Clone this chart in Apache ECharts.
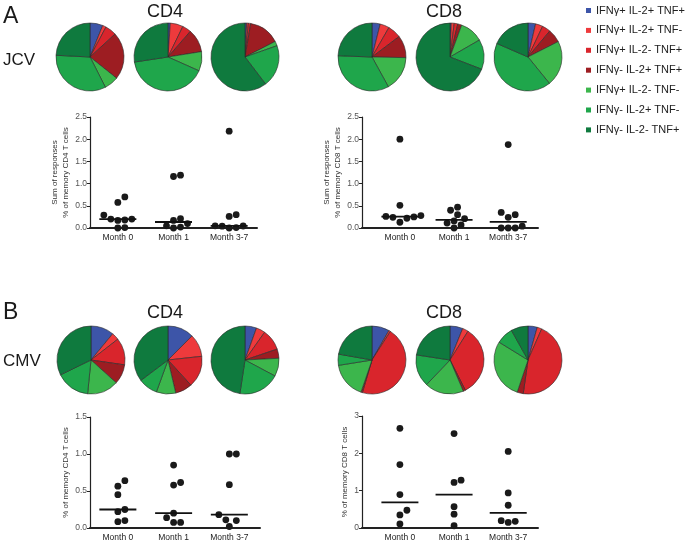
<!DOCTYPE html>
<html><head><meta charset="utf-8">
<script src="https://cdn.jsdelivr.net/npm/echarts@6/dist/echarts.min.js"></script>
<style>html,body{margin:0;padding:0;background:#fff}#c{width:688px;height:543px}</style>
</head><body><div id="c"></div>
<script>
// ---- categories ----
const subsets = ['IFNγ+ IL-2+ TNF+','IFNγ+ IL-2+ TNF-','IFNγ+ IL-2- TNF+','IFNγ- IL-2+ TNF+','IFNγ+ IL-2- TNF-','IFNγ- IL-2+ TNF-','IFNγ- IL-2- TNF+'];
const subsetColors = ['#3d55a8','#ee3a3c','#d9252c','#9d1d22','#3cb64c','#1fa64b','#0f7a3e'];
const months = ['Month 0','Month 1','Month 3-7'];

// ---- pie compositions (% of response), one row per time point ----
const jcvCD4Pies = [[6.1,1.7,5.4,22.5,6.8,33.3,24.2],[1.1,6.1,4.2,11.1,9.2,41.0,27.4],[0.8,0.8,1.1,14.7,2.2,20.0,60.3]];
const jcvCD8Pies = [[3.9,4.4,6.4,10.6,16.7,33.6,24.4],[0.6,1.4,1.7,1.9,11.1,14.2,69.2],[3.6,3.5,4.0,6.4,21.7,42.4,18.5]];
const cmvCD4Pies = [[11.0,3.5,12.8,9.4,14.9,16.2,32.2],[12.5,10.8,15.0,8.1,9.2,9.2,35.3],[5.5,4.3,10.0,4.4,8.6,19.6,47.6]];
const cmvCD8Pies = [[8.3,0.8,45.4,0.7,17.2,5.3,22.2],[6.1,2.8,33.6,1.1,18.5,15.3,22.6],[4.4,2.2,45.6,2.9,28.6,8.1,8.1]];

// ---- individual responses (% of memory T cells) per time point ----
const jcvCD4Dots = [[0.70,0.575,0.29,0.20,0.18,0.17,0.20,0.0,0.01],[1.19,1.16,0.21,0.17,0.10,0.05,0.02,0.0],[2.18,0.30,0.26,0.05,0.04,0.045,0.01,0.0]];
const jcvCD8Dots = [[2.0,0.51,0.28,0.26,0.25,0.24,0.22,0.13],[0.47,0.40,0.30,0.21,0.16,0.11,0.07,0.0],[1.88,0.35,0.30,0.24,0.04,0.0,0.0,0.0]];
const cmvCD4Dots = [[0.64,0.565,0.45,0.25,0.22,0.10,0.085],[0.85,0.615,0.58,0.20,0.14,0.075,0.075],[1.0,1.0,0.585,0.18,0.11,0.10,0.02]];
const cmvCD8Dots = [[2.67,1.70,0.895,0.475,0.35,0.11],[2.53,1.28,1.22,0.57,0.37,0.06],[2.05,0.94,0.61,0.197,0.18,0.15]];

// ---- layout ----
const pieGroups = [
  {data: jcvCD4Pies, cx:[90,168,245], cy:57},
  {data: jcvCD8Pies, cx:[372,450,528], cy:57},
  {data: cmvCD4Pies, cx:[91,168,245], cy:360},
  {data: cmvCD8Pies, cx:[372,450,528], cy:360}
];
const panels = [
  {groups: jcvCD4Dots, left:90, top:117, width:167, height:111, yMax:2.5, yStep:0.5, dec:1, xMin:0.5, xMax:3.5, yName:'Sum of responses\n% of memory CD4 T cells', nameGap:19},
  {groups: jcvCD8Dots, left:362, top:117, width:176, height:111, yMax:2.5, yStep:0.5, dec:1, xMin:0.3, xMax:3.55, yName:'Sum of responses\n% of memory CD8 T cells', nameGap:9},
  {groups: cmvCD4Dots, left:90, top:417, width:170, height:111, yMax:1.5, yStep:0.5, dec:1, xMin:0.5, xMax:3.55, yName:'% of memory CD4 T cells', nameGap:19},
  {groups: cmvCD8Dots, left:362, top:416, width:176, height:112, yMax:3, yStep:1, dec:0, xMin:0.3, xMax:3.55, yName:'% of memory CD8 T cells', nameGap:7}
];
const FONT = 'Liberation Sans, Arial, Helvetica, sans-serif';
const DOT = 6.8;

function median(a){const s=[...a].sort((x,y)=>x-y);const n=s.length;return n%2?s[(n-1)/2]:(s[n/2-1]+s[n/2])/2;}
// simple beeswarm: pixel x offsets so dots do not overlap
function swarm(vals, pxPerY){
  const D = 7.0, step = D/2;
  const order = vals.map((v,i)=>i).sort((a,b)=>vals[a]-vals[b]);
  const placed = [], off = new Array(vals.length).fill(0);
  for (const i of order){
    const y = vals[i]*pxPerY;
    const cands=[0];
    for(let k=1;k<12;k++){cands.push(k*step,-k*step);}
    for(const c of cands){
      if(placed.every(p=>Math.hypot(p[0]-c,p[1]-y)>=D)){off[i]=c;placed.push([c,y]);break;}
    }
  }
  return off;
}

const series = [];
pieGroups.forEach(g=>{
  g.data.forEach((vals,k)=>{
    series.push({type:'pie', silent:true, center:[g.cx[k], g.cy], radius:34, startAngle:90, clockwise:true,
      label:{show:false}, labelLine:{show:false}, emphasis:{disabled:true},
      itemStyle:{borderColor:'#2a2a2a', borderWidth:0.6},
      data: subsets.map((n,i)=>({name:n, value:vals[i], itemStyle:{color:subsetColors[i]}}))});
  });
});
panels.forEach((p,pi)=>{
  const pxPerY = p.height/p.yMax, pxPerX = p.width/(p.xMax-p.xMin);
  const pts = [], meds = [];
  p.groups.forEach((vals,k)=>{
    const off = swarm(vals, pxPerY);
    vals.forEach((v,i)=>pts.push([k+1+off[i]/pxPerX, v]));
    meds.push([k+1, median(vals)]);
  });
  series.push({type:'scatter', name:'dots'+pi, xAxisIndex:pi, yAxisIndex:pi, data:pts, symbolSize:DOT, clip:false, silent:true,
    itemStyle:{color:'#1a1a1a', opacity:1}, z:5});
  series.push({type:'scatter', name:'median'+pi, xAxisIndex:pi, yAxisIndex:pi, data:meds, symbol:'rect', symbolSize:[37,1.8], clip:false, silent:true,
    itemStyle:{color:'#111', opacity:1}, z:6});
});

const texts = [
  {t:'A', x:3, y:17, s:23}, {t:'B', x:3, y:313, s:23},
  {t:'CD4', x:165, y:12, s:18, c:true}, {t:'CD8', x:444, y:12, s:18, c:true},
  {t:'CD4', x:165, y:313, s:18, c:true}, {t:'CD8', x:444, y:313, s:18, c:true},
  {t:'JCV', x:3, y:60, s:17}, {t:'CMV', x:3, y:361, s:17}
];

const option = {
  animation:false,
  color: subsetColors,
  textStyle:{fontFamily:FONT},
  legend:{orient:'vertical', left:586, top:5, padding:0, itemWidth:5, itemHeight:5, itemGap:8.9, icon:'rect', selectedMode:false,
    itemStyle:{borderWidth:0},
    data:subsets, textStyle:{fontSize:11, color:'#222', fontFamily:FONT}},
  grid: panels.map(p=>({left:p.left, top:p.top, width:p.width, height:p.height, containLabel:false, outerBoundsMode:'none'})),
  xAxis: panels.map((p,i)=>({gridIndex:i, type:'value', min:p.xMin, max:p.xMax, splitLine:{show:false},
    axisTick:{show:false}, axisLine:{show:true, onZero:false, lineStyle:{color:'#222', width:2}},
    axisLabel:{customValues:[1,2,3], formatter:v=>months[Math.round(v)-1]||'', fontSize:8.5, color:'#222', margin:5, fontFamily:FONT}})),
  yAxis: panels.map((p,i)=>({gridIndex:i, type:'value', min:0, max:p.yMax, interval:p.yStep, splitLine:{show:false},
    axisLine:{show:true, onZero:false, lineStyle:{color:'#222', width:1.2}},
    axisTick:{show:true, length:3, lineStyle:{color:'#222', width:1}},
    axisLabel:{fontSize:8.5, color:'#555', margin:3, fontFamily:FONT, formatter:v=>v.toFixed(p.dec)},
    name:p.yName, nameLocation:'middle', nameRotate:90, nameGap:p.nameGap,
    nameTextStyle:{fontSize:8, color:'#333', lineHeight:11, fontFamily:FONT}})),
  series: series,
  graphic: texts.map(o=>({type:'text', x:o.x, y:o.y, silent:true,
    style:{text:o.t, fill:'#1a1a1a', font:o.s+'px '+FONT, align:o.c?'center':'left', verticalAlign:'middle'}}))
};
const chart = echarts.init(document.getElementById('c'));
chart.setOption(option);
</script></body></html>
